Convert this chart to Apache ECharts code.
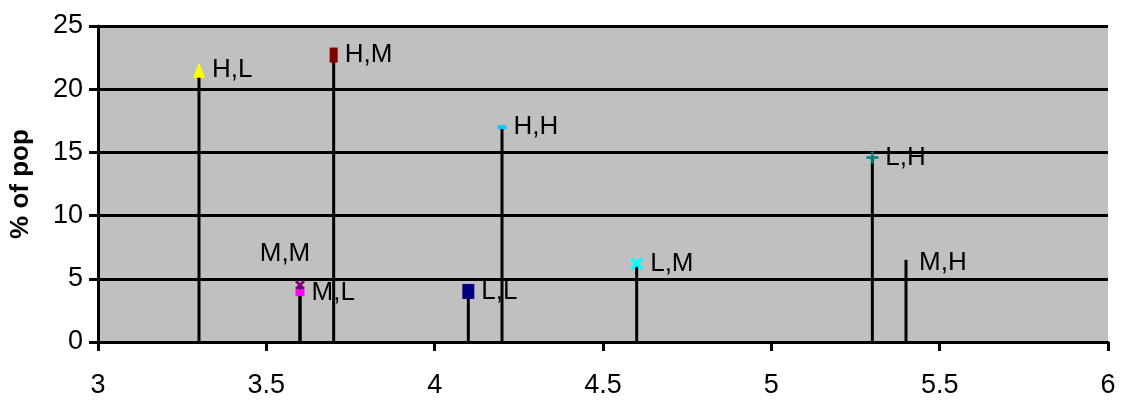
<!DOCTYPE html>
<html>
<head>
<meta charset="utf-8">
<script src="https://cdn.jsdelivr.net/npm/echarts@6/dist/echarts.min.js"></script>
<style>
  html, body { margin: 0; padding: 0; background: #ffffff; }
  #chart { width: 1126px; height: 403px; }
</style>
</head>
<body>
<div id="chart"></div>
<script>
// Groups (first letter, second letter), their position on the x scale and % of population
const groupLabels = ['H,L', 'H,M', 'H,H', 'L,H', 'M,H', 'L,M', 'L,L', 'M,M', 'M,L'];
const xValues     = [3.3,   3.7,   4.2,   5.3,   5.4,   4.6,   4.1,   3.6,   3.6];
const popPercent  = [21.5,  22.7,  17.0,  14.6,  6.5,   6.2,   4.0,   4.5,   3.9];

const xTicks = [3, 3.5, 4, 4.5, 5, 5.5, 6];
const yTicks = [0, 5, 10, 15, 20, 25];

const CROSS = 'path://M0,2 L2,0 L5,3 L8,0 L10,2 L7,5 L10,8 L8,10 L5,7 L2,10 L0,8 L3,5 Z';
const PLUS = 'path://M4,0 L6,0 L6,4 L10,4 L10,6 L6,6 L6,10 L4,10 L4,6 L0,6 L0,4 L4,4 Z';

// Marker look for each group (M,H has no visible marker)
const markerStyle = {
  'H,L': { symbol: 'triangle', size: [12, 15], color: '#FFFF00' },
  'H,M': { symbol: 'rect', size: [8, 15], color: '#800000' },
  'H,H': { symbol: 'rect', size: [9, 4], color: '#00CCFF' },
  'L,H': { symbol: PLUS, size: [12, 12], color: '#008080' },
  'M,H': { symbol: 'circle', size: [2, 2], color: 'rgba(0,0,0,0)' },
  'L,M': { symbol: CROSS, size: [13, 13], color: '#00FFFF' },
  'L,L': { symbol: 'rect', size: [12, 15], color: '#000080' },
  'M,M': { symbol: CROSS, size: [10, 10], color: '#800080' },
  'M,L': { symbol: 'rect', size: [9, 7], color: '#FF00FF' }
};

const FONT = 'Liberation Sans, Arial, sans-serif';
const labelFont = { fontFamily: FONT, fontSize: 26, color: '#000' };

// Vertical drop lines from the x axis up to each value
const dropSeries = {
  type: 'custom',
  silent: true,
  z: 3,
  data: groupLabels.map((g, i) => [xValues[i], popPercent[i]]),
  renderItem: function (params, api) {
    const top = api.coord([api.value(0), api.value(1)]);
    const bottom = api.coord([api.value(0), 0]);
    return {
      type: 'line',
      shape: { x1: top[0], y1: top[1], x2: bottom[0], y2: bottom[1] },
      style: { stroke: '#000', lineWidth: 3 }
    };
  }
};

const pointSeries = groupLabels.map((g, i) => {
  const st = markerStyle[g];
  const label = Object.assign({
    show: true,
    formatter: g,
    position: 'right',
    distance: 7
  }, labelFont);
  if (g === 'M,M') {
    label.position = 'top';
    label.distance = 5;
    label.offset = [-15, -8];
  }
  if (g === 'M,H') {
    label.distance = 12;
    label.offset = [0, 3];
  }
  return {
    name: g,
    type: 'scatter',
    z: 5,
    symbol: st.symbol,
    symbolSize: st.size,
    itemStyle: { color: st.color, opacity: 1 },
    label: label,
    data: [[xValues[i], popPercent[i]]]
  };
});

const chart = echarts.init(document.getElementById('chart'), null, { renderer: 'canvas' });
chart.setOption({
  animation: false,
  backgroundColor: '#ffffff',
  grid: {
    left: 98, right: 18, top: 26, bottom: 61,
    show: true,
    backgroundColor: '#C0C0C0',
    borderWidth: 0
  },
  xAxis: {
    type: 'value',
    min: xTicks[0],
    max: xTicks[xTicks.length - 1],
    interval: 0.5,
    axisLine: { show: true, onZero: false, lineStyle: { color: '#000', width: 3 } },
    axisTick: { show: true, length: 9, lineStyle: { color: '#000', width: 3 } },
    splitLine: { show: false },
    axisLabel: {
      margin: 30,
      fontFamily: FONT,
      fontSize: 27,
      color: '#000',
      formatter: v => String(v)
    }
  },
  yAxis: {
    type: 'value',
    min: yTicks[0],
    max: yTicks[yTicks.length - 1],
    interval: 5,
    name: '% of pop',
    nameLocation: 'middle',
    nameGap: 64,
    nameTextStyle: {
      fontFamily: FONT,
      fontSize: 26,
      fontWeight: 'bold',
      color: '#000'
    },
    axisLine: { show: true, lineStyle: { color: '#000', width: 3 } },
    axisTick: { show: true, length: 9, lineStyle: { color: '#000', width: 3 } },
    splitLine: { show: true, lineStyle: { color: '#000', width: 3 } },
    axisLabel: {
      margin: 15,
      fontFamily: FONT,
      fontSize: 27,
      color: '#000'
    }
  },
  series: [dropSeries].concat(pointSeries)
});
</script>
</body>
</html>
